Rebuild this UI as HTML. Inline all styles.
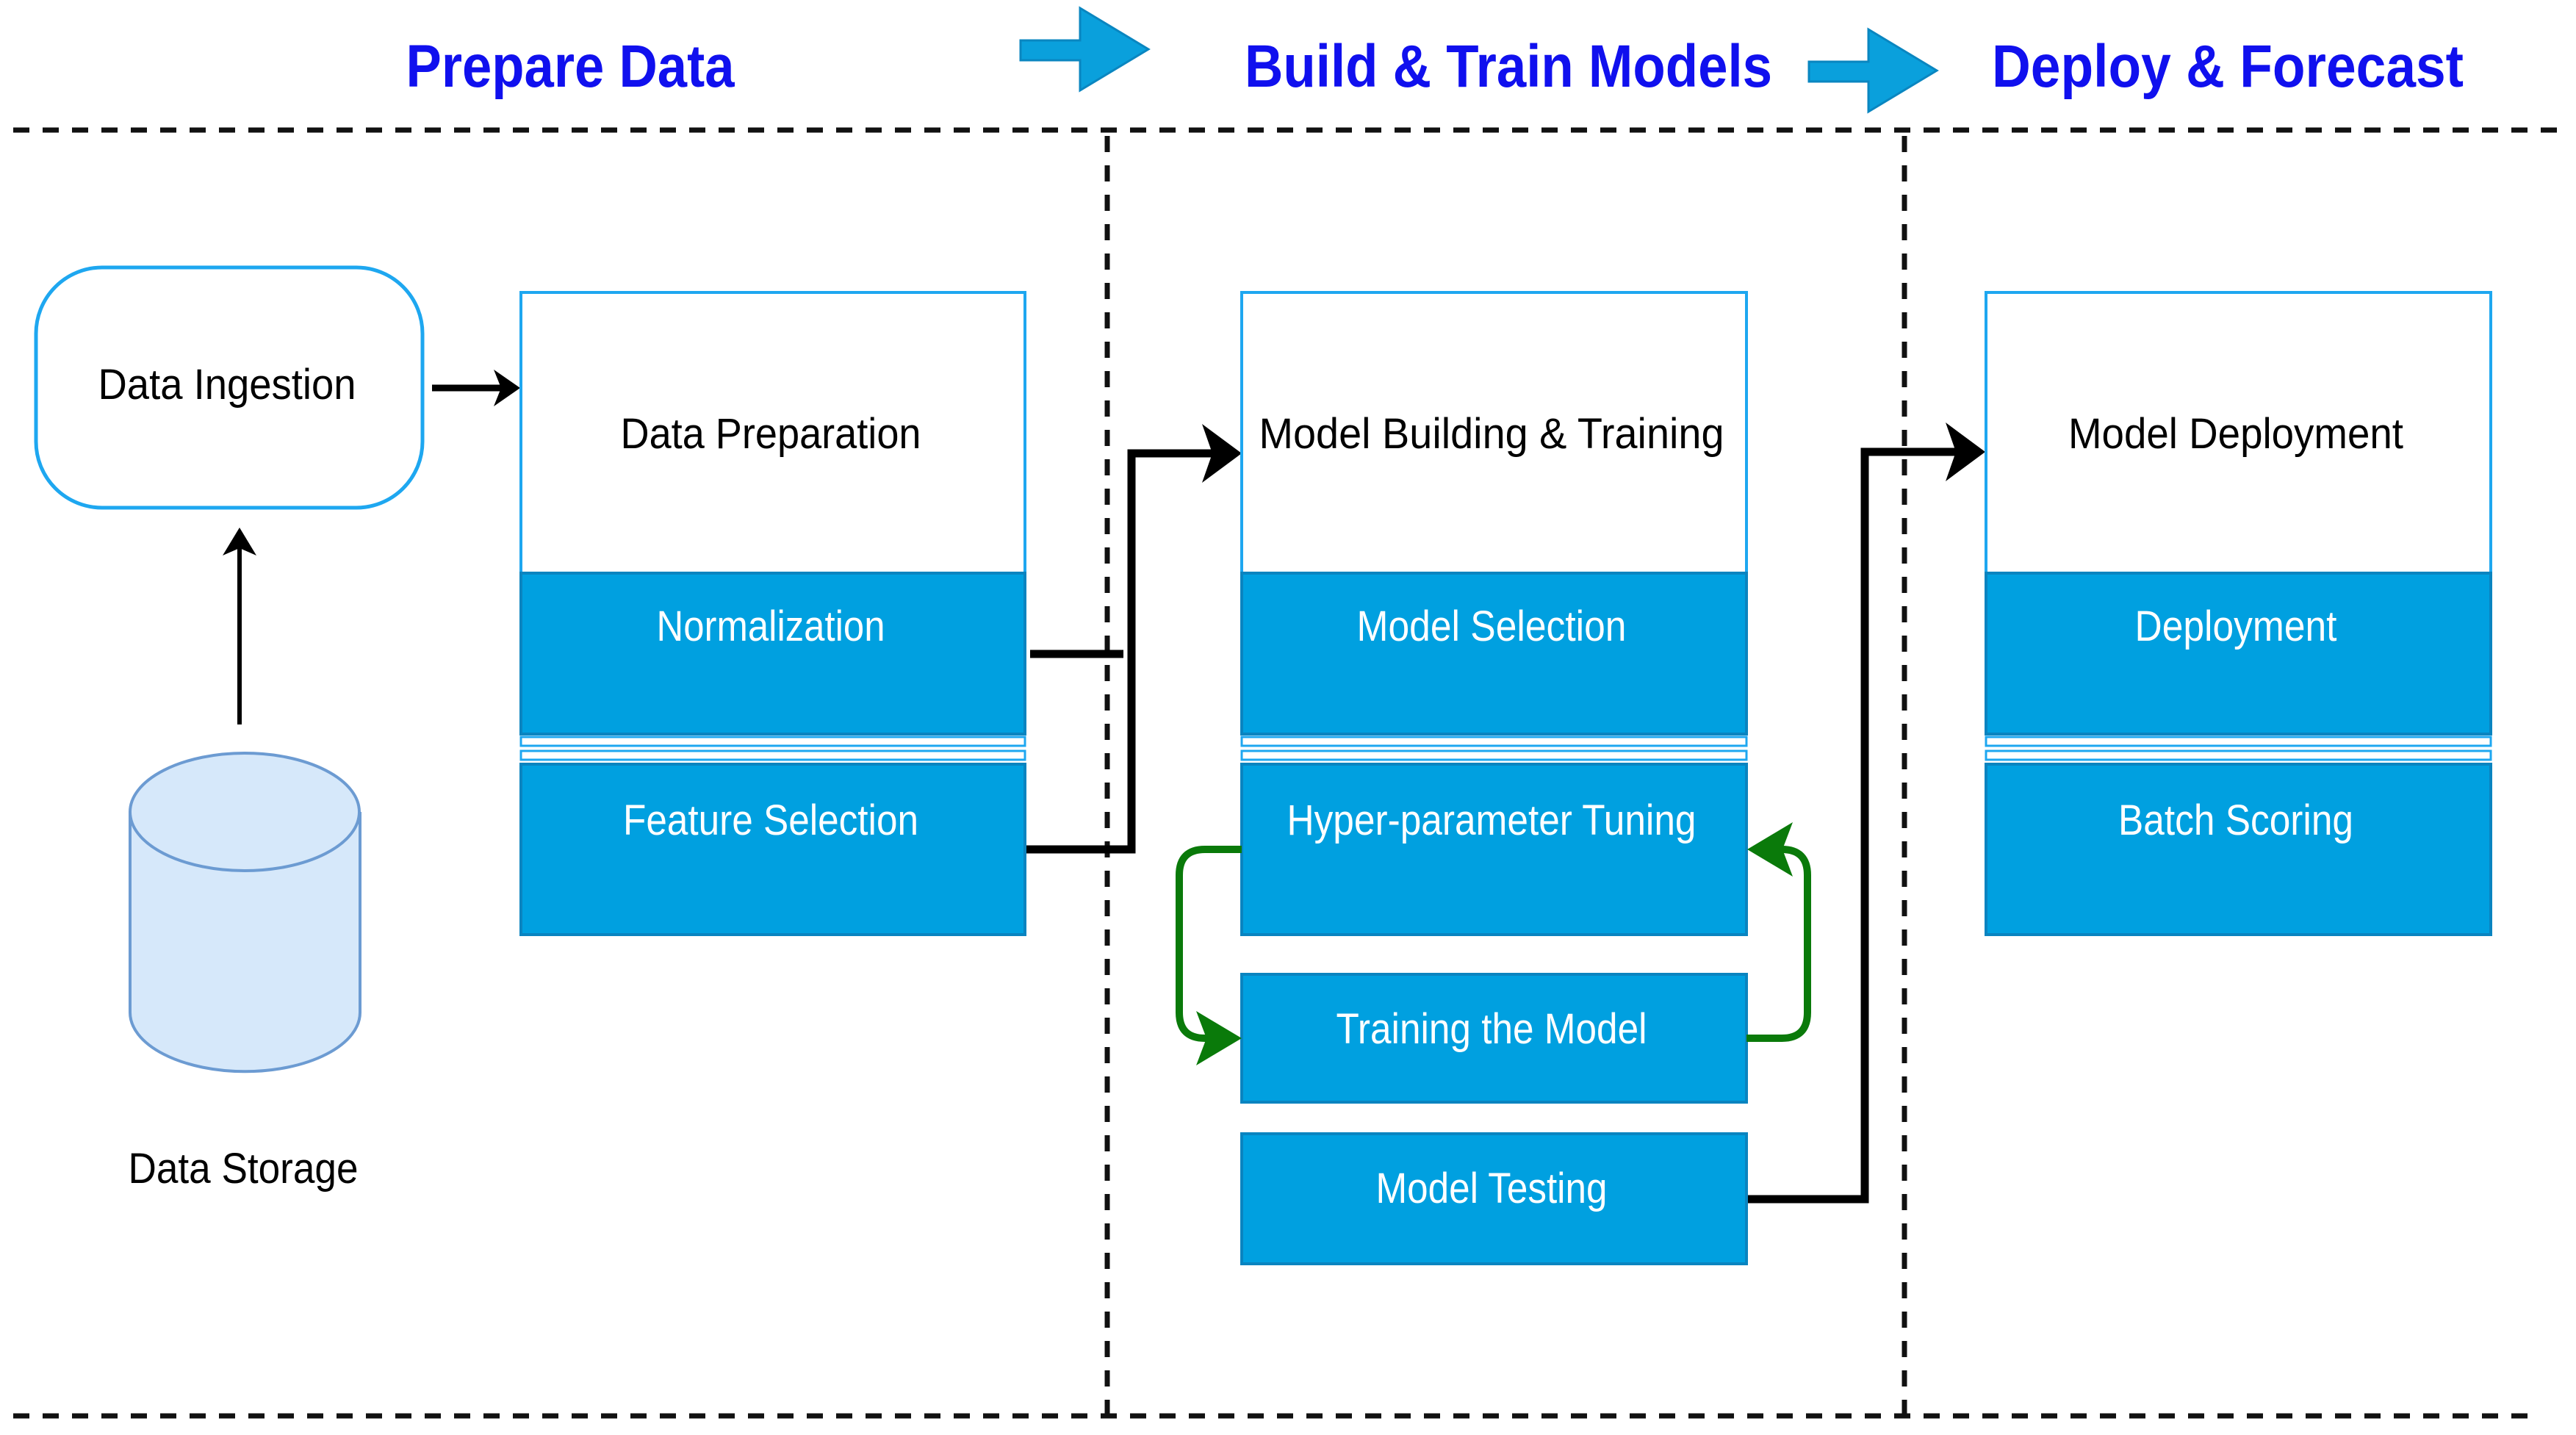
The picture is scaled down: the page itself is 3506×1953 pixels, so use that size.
<!DOCTYPE html>
<html><head><meta charset="utf-8"><style>
html,body{margin:0;padding:0;background:#fff;}
svg{display:block;}
text{font-family:"Liberation Sans",sans-serif;}
</style></head><body>
<svg width="3506" height="1953" viewBox="0 0 3506 1953" xmlns="http://www.w3.org/2000/svg">
<g stroke="#111" stroke-width="7" stroke-dasharray="22 18" fill="none">
<line x1="18" y1="177" x2="3493" y2="177"/>
<line x1="18" y1="1927" x2="3445" y2="1927"/>
<line x1="1507" y1="185" x2="1507" y2="1927"/>
<line x1="2592" y1="185" x2="2592" y2="1927"/>
</g>
<g fill="#1010ee" font-size="82" font-weight="bold">
<text x="776" y="118" text-anchor="middle" textLength="447" lengthAdjust="spacingAndGlyphs">Prepare Data</text>
<text x="2053" y="118" text-anchor="middle" textLength="718" lengthAdjust="spacingAndGlyphs">Build &amp; Train Models</text>
<text x="3032" y="118" text-anchor="middle" textLength="642" lengthAdjust="spacingAndGlyphs">Deploy &amp; Forecast</text>
</g>
<path d="M1389,55 L1470,55 L1470,11 L1563,67 L1470,123 L1470,82 L1389,82 Z" fill="#0aa0dc" stroke="#0a86c0" stroke-width="3"/>
<path d="M2462,84 L2543,84 L2543,40 L2636,96 L2543,152 L2543,111 L2462,111 Z" fill="#0aa0dc" stroke="#0a86c0" stroke-width="3"/>
<rect x="49" y="364" width="526" height="327" rx="90" fill="#fff" stroke="#1ea7f0" stroke-width="5"/>
<text x="309" y="543" text-anchor="middle" font-size="58" textLength="351" lengthAdjust="spacingAndGlyphs">Data Ingestion</text>
<path d="M177,1105 L177,1378 A156,80 0 0 0 490,1378 L490,1105" fill="#d6e8fa" stroke="#6c9bd2" stroke-width="4"/>
<ellipse cx="333" cy="1105" rx="156" ry="80" fill="#d6e8fa" stroke="#6c9bd2" stroke-width="4"/>
<text x="331" y="1610" text-anchor="middle" font-size="58" textLength="313" lengthAdjust="spacingAndGlyphs">Data Storage</text>
<g stroke="#000" fill="none">
<line x1="588" y1="528" x2="690" y2="528" stroke-width="9"/>
<line x1="326" y1="986" x2="326" y2="740" stroke-width="6"/>
<line x1="1402" y1="890" x2="1529" y2="890" stroke-width="11"/>
<polyline points="1395,1156 1540,1156 1540,617 1660,617" stroke-width="11"/>
<polyline points="2377,1632 2538,1632 2538,615 2672,615" stroke-width="11"/>
</g>
<g fill="#000">
<path d="M708,528 L672,503 L682,528 L672,553 Z"/>
<path d="M326,718 L303,756 L326,746 L349,756 Z"/>
<path d="M1690,617 L1636,577 L1650,617 L1636,657 Z"/>
<path d="M2702,615 L2648,575 L2662,615 L2648,655 Z"/>
</g>
<g stroke="#0a84c0" stroke-width="4">
<rect x="709" y="398" width="686" height="382" fill="#fff" stroke="#1ea7f0"/>
<rect x="709" y="780" width="686" height="219" fill="#00a0e0"/>
<rect x="709" y="1040" width="686" height="232" fill="#00a0e0"/>
<rect x="1690" y="398" width="687" height="382" fill="#fff" stroke="#1ea7f0"/>
<rect x="1690" y="780" width="687" height="219" fill="#00a0e0"/>
<rect x="1690" y="1040" width="687" height="232" fill="#00a0e0"/>
<rect x="1690" y="1326" width="687" height="174" fill="#00a0e0"/>
<rect x="1690" y="1543" width="687" height="177" fill="#00a0e0"/>
<rect x="2703" y="398" width="687" height="382" fill="#fff" stroke="#1ea7f0"/>
<rect x="2703" y="780" width="687" height="219" fill="#00a0e0"/>
<rect x="2703" y="1040" width="687" height="232" fill="#00a0e0"/>
</g>
<g fill="#fff" stroke="#1ea7f0" stroke-width="3">
<rect x="709" y="1003" width="686" height="12"/><rect x="709" y="1022" width="686" height="12"/>
<rect x="1690" y="1003" width="687" height="12"/><rect x="1690" y="1022" width="687" height="12"/>
<rect x="2703" y="1003" width="687" height="12"/><rect x="2703" y="1022" width="687" height="12"/>
</g>
<g stroke="#0a7a0a" stroke-width="10" fill="none">
<path d="M1690,1156 L1640,1156 Q1605,1156 1605,1191 L1605,1378 Q1605,1413 1640,1413 L1680,1413"/>
<path d="M2377,1413 L2425,1413 Q2460,1413 2460,1378 L2460,1191 Q2460,1156 2425,1156 L2390,1156"/>
</g>
<path d="M1690,1413 L1628,1376 L1642,1413 L1628,1450 Z" fill="#0a7a0a"/>
<path d="M2378,1156 L2440,1119 L2426,1156 L2440,1193 Z" fill="#0a7a0a"/>
<g font-size="58" text-anchor="middle">
<text x="1049" y="610" textLength="409" lengthAdjust="spacingAndGlyphs">Data Preparation</text>
<text x="2030" y="610" textLength="633" lengthAdjust="spacingAndGlyphs">Model Building &amp; Training</text>
<text x="3043" y="610" textLength="456" lengthAdjust="spacingAndGlyphs">Model Deployment</text>
<g fill="#fff">
<text x="1049" y="872" textLength="311" lengthAdjust="spacingAndGlyphs">Normalization</text>
<text x="1049" y="1136" textLength="402" lengthAdjust="spacingAndGlyphs">Feature Selection</text>
<text x="2030" y="872" textLength="367" lengthAdjust="spacingAndGlyphs">Model Selection</text>
<text x="2030" y="1136" textLength="557" lengthAdjust="spacingAndGlyphs">Hyper-parameter Tuning</text>
<text x="2030" y="1420" textLength="423" lengthAdjust="spacingAndGlyphs">Training the Model</text>
<text x="2030" y="1637" textLength="315" lengthAdjust="spacingAndGlyphs">Model Testing</text>
<text x="3043" y="872" textLength="275" lengthAdjust="spacingAndGlyphs">Deployment</text>
<text x="3043" y="1136" textLength="320" lengthAdjust="spacingAndGlyphs">Batch Scoring</text>
</g>
</g>
</svg>
</body></html>
